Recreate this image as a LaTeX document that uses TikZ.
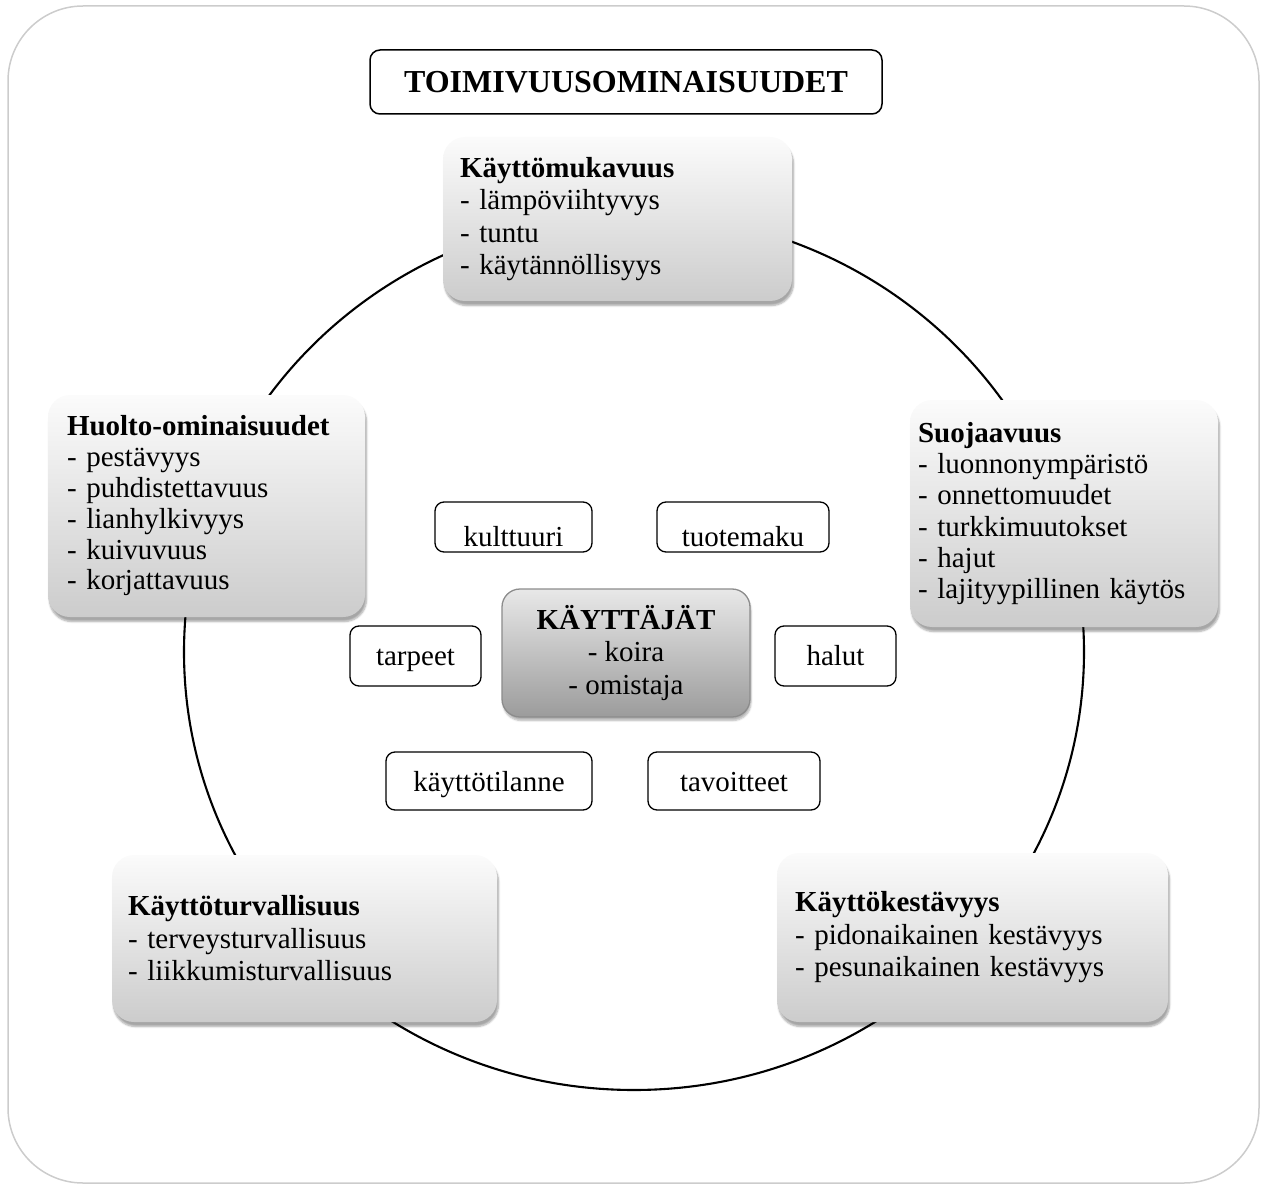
\documentclass[tikz,border=0pt]{standalone}
\usepackage{fontspec}
\setmainfont{Liberation Serif}
\usetikzlibrary{shadows.blur}
\tikzset{
  framebox/.style={draw=gray!40, line width=1.5pt, rounded corners=75pt},
  ring/.style={draw=black, line width=2.1pt},
  bigbox/.style={rounded corners=22pt, top color=gray!3, bottom color=gray!40,
    draw=none, align=left, inner ysep=0pt,
    font=\fontsize{29}{32.5}\selectfont,
    blur shadow={shadow xshift=1.5pt, shadow yshift=-4.5pt, shadow blur steps=6, shadow opacity=35}},
  centerbox/.style={rounded corners=18pt, top color=gray!18, bottom color=gray!78,
    draw=gray!90, line width=1.3pt, align=center, inner sep=0pt,
    font=\fontsize{29}{32.5}\selectfont,
    blur shadow={shadow xshift=1pt, shadow yshift=-3.5pt, shadow blur steps=5, shadow opacity=30}},
  smallbox/.style={draw=black, line width=1.3pt, rounded corners=9pt, fill=white,
    inner sep=0pt, font=\fontsize{29}{32}\selectfont},
  titlebox/.style={draw=black, line width=1.5pt, rounded corners=10pt, fill=white,
    inner sep=0pt, font=\fontsize{32}{36}\selectfont}
}
\begin{document}
\begin{tikzpicture}[x=1pt,y=-1pt]
\useasboundingbox (0,0) rectangle (1262,1185);
\draw[framebox] (8,6) rectangle (1259,1183);
\draw[ring] (634,652) ellipse [x radius=450, y radius=438];

\node[titlebox, minimum width=512pt, minimum height=64pt] (title) at (626,82)
  {\textbf{TOIMIVUUSOMINAISUUDET}};

\node[bigbox, minimum width=349pt, minimum height=164pt, inner xsep=17pt, text width=315pt]
  (mukavuus) at (617.5,219)
  {\textbf{Käyttömukavuus}\\- lämpöviihtyvys\\- tuntu\\- käytännöllisyys};

\node[bigbox, minimum width=317pt, minimum height=222pt, inner xsep=19pt, text width=279pt,
  font=\fontsize{29}{30.8}\selectfont]
  (huolto) at (206.5,506)
  {\textbf{Huolto-ominaisuudet}\\- pestävyys\\- puhdistettavuus\\- lianhylkivyys\\- kuivuvuus\\- korjattavuus};

\node[bigbox, minimum width=308pt, minimum height=227pt, inner xsep=8pt, text width=292pt,
  font=\fontsize{29}{31.2}\selectfont]
  (suoja) at (1064,513.5)
  {\textbf{Suojaavuus}\\- luonnonympäristö\\- onnettomuudet\\- turkkimuutokset\\- hajut\\- lajityypillinen käytös};

\node[bigbox, minimum width=385pt, minimum height=167pt, inner xsep=16pt, text width=353pt]
  (turva) at (304.5,938.5)
  {\textbf{Käyttöturvallisuus}\\- terveysturvallisuus\\- liikkumisturvallisuus};

\node[bigbox, minimum width=391pt, minimum height=169pt, inner xsep=18pt, text width=355pt]
  (kesto) at (972.5,937.5)
  {\textbf{Käyttökestävyys}\\- pidonaikainen kestävyys\\- pesunaikainen kestävyys};

\node[centerbox, minimum width=248pt, minimum height=128pt] (users) at (626,653)
  {\textbf{KÄYTTÄJÄT}\\- koira\\- omistaja};

\node[smallbox, minimum width=157pt, minimum height=50pt, text height=38pt, text depth=0pt]
  (kulttuuri) at (513.5,527) {kulttuuri};
\node[smallbox, minimum width=172pt, minimum height=50pt, text height=38pt, text depth=0pt]
  (tuotemaku) at (743,527) {tuotemaku};
\node[smallbox, minimum width=131pt, minimum height=60pt, text height=20pt, text depth=2pt]
  (tarpeet) at (415.5,656) {tarpeet};
\node[smallbox, minimum width=121pt, minimum height=60pt, text height=20pt, text depth=2pt]
  (halut) at (835.5,656) {halut};
\node[smallbox, minimum width=206pt, minimum height=58pt, text height=23pt, text depth=2pt]
  (tilanne) at (489,781) {käyttötilanne};
\node[smallbox, minimum width=172pt, minimum height=58pt, text height=23pt, text depth=2pt]
  (tavoitteet) at (734,781) {tavoitteet};
\end{tikzpicture}
\end{document}
